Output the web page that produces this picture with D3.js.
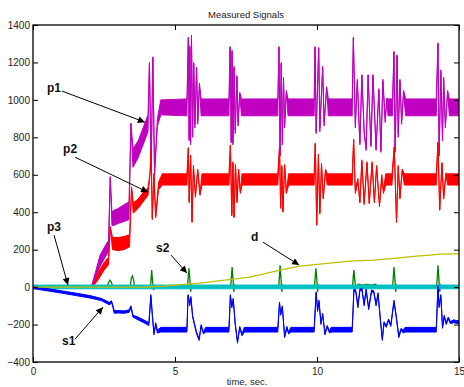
<!DOCTYPE html>
<html><head><meta charset="utf-8">
<script src="https://cdn.jsdelivr.net/npm/d3@7"></script>
<style>
body{margin:0;background:#fff;}
svg{display:block;font-family:"Liberation Sans",Arial,Helvetica,sans-serif;}
</style></head>
<body><svg id="chart" width="464" height="387"></svg>
<script>
// ---------- data ----------
const title = "Measured Signals";
const xLabel = "time, sec.";
const xTicks = [0, 5, 10, 15];
const yTicks = [-400, -200, 0, 200, 400, 600, 800, 1000, 1200, 1400];

// noisy signals: [time, low edge, high edge]
const p1 = [[0,0,0],[2.05,0,0],[2.2,40,80],[2.36,110,170],[2.54,160,220],[2.66,190,250],[2.72,585,590],[2.78,330,400],[2.85,330,410],[3.0,340,420],[3.2,350,440],[3.38,360,455],[3.45,870,876],[3.52,640,740],[3.7,690,780],[3.9,770,860],[4.05,830,920],[4.1,1195,1200],[4.16,620,640],[4.22,1225,1230],[4.28,600,610],[4.38,860,900],[4.5,920,1000],
 [5.42,915,1005],[5.47,1330,1335],[5.5,780,790],[5.52,1280,1290],[5.55,760,770],[5.58,1340,1346],[5.62,800,820],[5.66,1190,1200],[5.7,850,870],[5.76,1170,1175],[5.8,870,890],[5.86,1080,1090],[5.92,915,1005],
 [6.9,915,1005],[6.94,1280,1285],[6.98,770,780],[7.01,1260,1265],[7.04,760,770],[7.08,1170,1180],[7.12,820,840],[7.18,1120,1130],[7.22,860,880],[7.28,1030,1040],[7.34,915,1005],
 [8.62,915,1005],[8.66,1280,1285],[8.7,700,710],[8.74,1190,1200],[8.78,760,780],[8.82,1110,1120],[8.86,850,870],[8.92,1040,1050],[8.98,915,1005],
 [9.9,915,1005],[9.93,1280,1285],[9.97,820,830],[10.06,1275,1280],[10.1,830,850],[10.2,1170,1180],[10.25,860,880],[10.34,1060,1070],[10.4,915,1005],
 [11.24,915,1005],[11.28,1330,1335],[11.35,850,870],[11.42,1100,1110],[11.51,760,770],[11.58,1130,1135],[11.66,820,840],[11.73,730,740],[11.8,1130,1135],[11.9,750,760],[11.97,1130,1135],[12.08,730,740],[12.18,1050,1060],[12.25,720,730],[12.32,1100,1110],[12.4,880,900],[12.46,1000,1010],[12.5,915,1005],
 [12.66,915,1005],[12.71,1255,1260],[12.75,720,730],[12.82,1235,1240],[12.86,800,820],[12.92,1100,1110],[12.98,870,890],[13.05,1040,1050],[13.12,915,1005],
 [14.2,915,1005],[14.26,1300,1305],[14.3,700,710],[14.36,1150,1160],[14.42,780,800],[14.46,1110,1120],[14.52,850,870],[14.6,1040,1050],[14.66,915,1005],[15,915,1005]];

const p2 = [[0,0,0],[2.1,0,0],[2.3,40,80],[2.5,90,130],[2.66,120,160],[2.72,320,325],[2.8,200,265],[3.0,195,265],[3.2,200,270],[3.4,215,280],[3.47,530,535],[3.53,395,450],[3.7,420,470],[3.9,460,510],[4.05,490,530],[4.12,600,610],[4.16,730,735],[4.2,360,370],[4.26,600,610],[4.32,370,380],[4.42,520,560],[4.55,545,605],
 [5.42,545,605],[5.47,740,745],[5.5,450,460],[5.55,700,705],[5.6,345,350],[5.65,640,650],[5.72,480,490],[5.8,620,630],[5.88,490,500],[5.95,545,605],
 [6.9,545,605],[6.95,755,760],[7.0,380,390],[7.04,660,670],[7.08,370,375],[7.13,650,655],[7.18,450,460],[7.24,620,630],[7.3,500,510],[7.36,545,605],
 [8.62,545,605],[8.68,745,750],[8.72,420,430],[8.76,640,650],[8.8,400,405],[8.86,650,655],[8.92,500,510],[9.0,545,605],
 [9.9,545,605],[9.94,765,770],[9.99,330,335],[10.05,700,710],[10.1,390,400],[10.16,650,660],[10.22,470,480],[10.3,620,630],[10.36,545,605],
 [11.24,545,605],[11.29,785,790],[11.35,500,520],[11.44,560,580],[11.51,450,455],[11.58,670,680],[11.66,440,450],[11.76,660,670],[11.84,445,450],[11.94,660,670],[12.02,450,460],[12.1,640,650],[12.2,430,440],[12.28,580,600],[12.34,500,520],[12.42,545,605],
 [12.64,545,605],[12.72,745,750],[12.8,345,350],[12.86,640,650],[12.92,470,480],[13.0,620,630],[13.08,545,605],
 [14.2,545,605],[14.26,770,775],[14.32,410,415],[14.4,660,665],[14.46,470,480],[14.54,600,610],[14.6,545,605],[15,545,605]];

const p3 = [[0,-9,11],[3,-9,11],[6,-9,11],[9,-9,11],[12,-9,11],[15,-9,11]];

const s1 = [[0,-8,4],[0.5,-20,-8],[1.0,-32,-20],[1.5,-45,-32],[2.0,-58,-45],[2.4,-72,-60],[2.7,-95,-82],[2.76,-80,-72],[2.8,-100,-90],[2.86,-140,-125],[3.0,-138,-125],[3.2,-140,-127],[3.38,-135,-122],[3.45,-110,-100],[3.52,-160,-150],[3.7,-175,-160],[3.9,-190,-175],[4.08,-205,-190],[4.15,-50,-40],[4.2,-150,-140],[4.26,-255,-245],[4.32,-200,-190],[4.38,-245,-230],[4.5,-240,-215],
 [5.42,-240,-215],[5.46,-45,-40],[5.52,-100,-85],[5.56,-60,-50],[5.62,-160,-150],[5.68,-200,-190],[5.76,-250,-240],[5.85,-285,-275],[5.92,-210,-200],[6.0,-250,-240],[6.08,-240,-215],
 [6.9,-240,-215],[6.95,-45,-40],[7.0,-110,-100],[7.05,-70,-60],[7.12,-200,-190],[7.2,-300,-290],[7.28,-220,-210],[7.36,-260,-250],[7.44,-240,-215],
 [8.62,-240,-215],[8.68,-85,-80],[8.72,-150,-140],[8.78,-110,-100],[8.86,-270,-260],[8.94,-220,-210],[9.0,-250,-240],[9.08,-240,-215],
 [9.9,-240,-215],[9.97,-30,-25],[10.02,-130,-120],[10.07,-80,-70],[10.14,-200,-190],[10.2,-150,-140],[10.28,-255,-245],[10.36,-215,-205],[10.44,-245,-235],[10.5,-240,-215],
 [11.24,-240,-215],[11.3,-20,-10],[11.37,-30,-20],[11.44,-110,-100],[11.51,-20,-10],[11.58,-15,-5],[11.66,-100,-90],[11.73,-20,-10],[11.82,-120,-110],[11.92,-25,-15],[12.0,-30,-20],[12.08,-100,-90],[12.15,-40,-30],[12.22,-160,-150],[12.3,-285,-275],[12.36,-195,-185],[12.44,-215,-205],[12.52,-180,-170],[12.6,-210,-200],[12.71,-80,-70],[12.78,-150,-140],[12.88,-270,-260],[12.96,-230,-220],[13.04,-245,-230],[13.1,-240,-215],
 [14.2,-240,-215],[14.26,0,10],[14.3,-110,-100],[14.36,-50,-40],[14.42,-220,-210],[14.48,-160,-150],[14.55,-200,-190],[14.62,-170,-160],[14.7,-195,-185],[14.8,-190,-175],[15,-195,-180]];

// thin signals: [time, value]
const s2 = [[0,0],[2.6,0],[2.66,25],[2.71,37],[2.76,25],[2.82,0],[3.42,0],[3.46,45],[3.5,59],[3.54,40],[3.58,0],[4.14,0],[4.18,91],[4.21,30],[4.24,-15],[4.28,0],
 [5.44,0],[5.47,60],[5.49,101],[5.52,50],[5.55,-25],[5.58,10],[5.62,0],
 [6.96,0],[6.99,60],[7.01,107],[7.04,50],[7.07,-25],[7.1,10],[7.14,0],
 [8.65,0],[8.68,60],[8.7,117],[8.73,50],[8.76,-25],[8.79,10],[8.83,0],
 [9.91,0],[9.94,60],[9.96,101],[9.99,50],[10.02,-25],[10.05,10],[10.09,0],
 [11.25,0],[11.28,60],[11.3,91],[11.33,40],[11.36,-10],[11.45,15],[11.6,10],[11.75,15],[11.9,10],[12.05,15],[12.2,0],
 [12.66,0],[12.69,60],[12.71,107],[12.74,50],[12.77,-25],[12.8,10],[12.84,0],
 [14.21,0],[14.24,60],[14.26,117],[14.29,50],[14.32,-25],[14.35,10],[14.39,0],[15,0]];

const d = [[0,0],[4.0,0],[4.6,5],[5.88,21],[7.64,53],[8.7,91],[9.4,112],[9.75,117],[10.46,128],[11.16,139],[11.97,144],[12.82,155],[13.5,165],[13.98,171],[14.33,176],[15,178]];

// annotations: label, label anchor (time,value), arrow start, arrow tip
const labels = ["p1","p2","p3","s1","s2","d"];
const labelAt = [[0.49,1042],[1.06,716],[0.49,299],[1.02,-310],[4.33,187],[7.68,246]];
const arrowFrom = [[1.02,1047],[1.48,694],[0.74,278],[1.48,-278],[4.86,171],[8.10,240]];
const arrowTo = [[3.94,881],[4.05,507],[1.23,11],[2.46,-107],[5.42,75],[9.37,118]];

// ---------- drawing ----------
const W = 464, H = 387;
const m = {left:33, top:25, right:5, bottom:25};
const pw = W - m.left - m.right, ph = H - m.top - m.bottom;
const svg = d3.select("#chart");
const x = d3.scaleLinear().domain([0,15]).range([0,pw]);
const y = d3.scaleLinear().domain([-400,1400]).range([ph,0]);

const defs = svg.append("defs");
defs.append("clipPath").attr("id","clip").append("rect").attr("width",pw).attr("height",ph);
defs.append("marker").attr("id","ah").attr("viewBox","0 0 10 10").attr("refX",10).attr("refY",5)
  .attr("markerWidth",9).attr("markerHeight",7).attr("markerUnits","userSpaceOnUse").attr("orient","auto")
  .append("path").attr("d","M0,0L10,5L0,10Z").attr("fill","#000");

const g = svg.append("g").attr("transform",`translate(${m.left},${m.top})`);
const plot = g.append("g").attr("clip-path","url(#clip)");

const area = d3.area().x(p=>x(p[0])).y0(p=>y(p[1])).y1(p=>y(p[2]));
const line = d3.line().x(p=>x(p[0])).y(p=>y(p[1]));

function band(data,color){
  plot.append("path").datum(data).attr("d",area).attr("fill",color)
    .attr("stroke",color).attr("stroke-width",1).attr("stroke-linejoin","round");
}
band(p1,"#c000c0");
band(p2,"#ff0000");
plot.append("path").datum(s2).attr("d",line).attr("fill","none").attr("stroke","#008000").attr("stroke-width",1.3);
band(p3,"#00bfbf");
band(s1,"#0000ff");
plot.append("path").datum(d).attr("d",line).attr("fill","none").attr("stroke","#bfbf00").attr("stroke-width",1.2);

// axes (MATLAB-style box with inward ticks)
g.append("rect").attr("width",pw).attr("height",ph).attr("fill","none").attr("stroke","#000").attr("stroke-width",1.3);
const axB = g.append("g").attr("transform",`translate(0,${ph})`).call(d3.axisBottom(x).tickValues(xTicks).tickSize(-5).tickPadding(6).tickFormat(d3.format("d")));
const axT = g.append("g").call(d3.axisTop(x).tickValues(xTicks).tickSize(-5).tickFormat(""));
const axL = g.append("g").call(d3.axisLeft(y).tickValues(yTicks).tickSize(-5).tickPadding(3).tickFormat(v=>v<0?"\u2212"+Math.abs(v):String(v)));
const axR = g.append("g").attr("transform",`translate(${pw},0)`).call(d3.axisRight(y).tickValues(yTicks).tickSize(-5).tickFormat(""));
[axB,axT,axL,axR].forEach(a=>{
  a.select(".domain").remove();
  a.selectAll("line").attr("stroke","#000");
  a.selectAll("text").attr("font-size",10).attr("fill","#222").attr("font-family","Liberation Sans, Arial, sans-serif");
});

// title and x label
svg.append("text").attr("x",246).attr("y",18).attr("text-anchor","middle")
  .attr("font-size",9.5).attr("fill","#222").text(title);
svg.append("text").attr("x",247).attr("y",385).attr("text-anchor","middle")
  .attr("font-size",9.5).attr("fill","#222").text(xLabel);

// annotations
labels.forEach((t,i)=>{
  g.append("line").attr("x1",x(arrowFrom[i][0])).attr("y1",y(arrowFrom[i][1]))
    .attr("x2",x(arrowTo[i][0])).attr("y2",y(arrowTo[i][1]))
    .attr("stroke","#000").attr("stroke-width",1).attr("marker-end","url(#ah)");
  g.append("text").attr("x",x(labelAt[i][0])).attr("y",y(labelAt[i][1]))
    .attr("font-size",12).attr("font-weight","bold").attr("fill","#111").text(t);
});
</script></body></html>
